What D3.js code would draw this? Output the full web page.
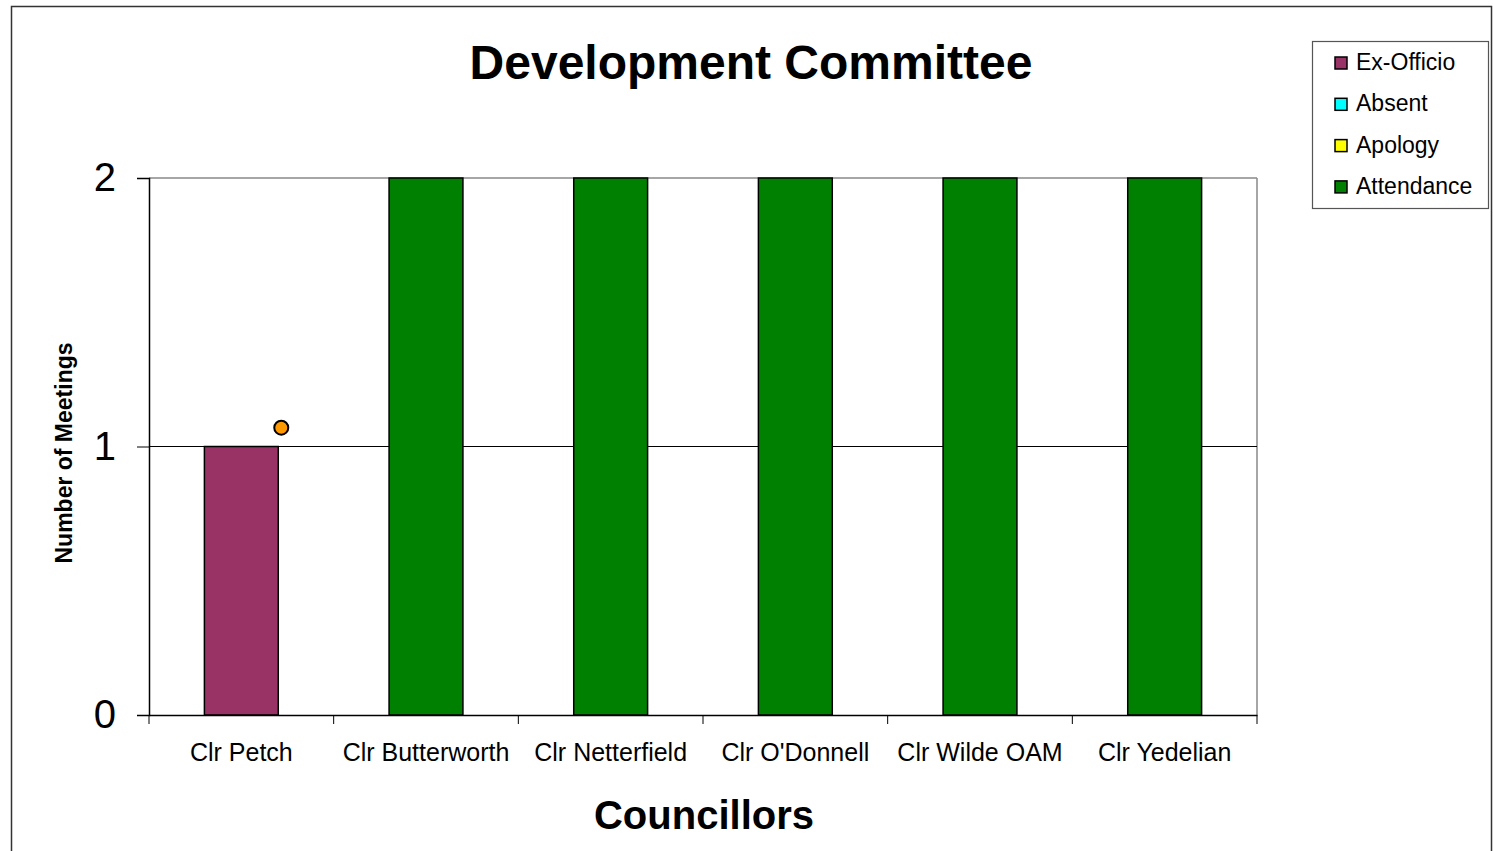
<!DOCTYPE html>
<html>
<head>
<meta charset="utf-8">
<script src="https://cdn.jsdelivr.net/npm/d3@7"></script>
<style>
  html, body { margin: 0; padding: 0; background: #fff; }
  svg { display: block; font-family: Arial, "Liberation Sans", sans-serif; }
</style>
</head>
<body>
<svg id="chart" width="1493" height="851"></svg>
<script>
// Meeting attendance per councillor
const councillors = ["Clr Petch", "Clr Butterworth", "Clr Netterfield", "Clr O'Donnell", "Clr Wilde OAM", "Clr Yedelian"];
const exOfficio  = [1, 0, 0, 0, 0, 0];
const absent     = [0, 0, 0, 0, 0, 0];
const apology    = [0, 0, 0, 0, 0, 0];
const attendance = [0, 2, 2, 2, 2, 2];
const chairMarker = [{ councillor: "Clr Petch", value: 1.07 }];
const yTicks = [0, 1, 2];

const seriesNames = ["Ex-Officio", "Absent", "Apology", "Attendance"];
const seriesColors = ["#993366", "#00FFFF", "#FFFF00", "#008000"];
const seriesValues = [exOfficio, absent, apology, attendance];

const svg = d3.select("#chart");

// outer frame
svg.append("rect").attr("x", 11.5).attr("y", 6.5).attr("width", 1480).attr("height", 860)
  .attr("fill", "#fff").attr("stroke", "#333").attr("stroke-width", 1.5);

const plot = { left: 149, right: 1257, top: 178, bottom: 715 };

const x = d3.scaleBand().domain(councillors).range([plot.left, plot.right]).paddingInner(0).paddingOuter(0);
const y = d3.scaleLinear().domain([0, 2]).range([plot.bottom, plot.top]);
const barW = x.bandwidth() * 0.4;

// plot border (top and right in grey)
svg.append("line").attr("x1", plot.left).attr("x2", plot.right).attr("y1", y(2)).attr("y2", y(2))
  .attr("stroke", "#888").attr("stroke-width", 1.5);
svg.append("line").attr("x1", plot.right).attr("x2", plot.right).attr("y1", plot.top).attr("y2", plot.bottom)
  .attr("stroke", "#888").attr("stroke-width", 1.5);

// gridline at 1
svg.append("line").attr("x1", plot.left).attr("x2", plot.right).attr("y1", y(1)).attr("y2", y(1))
  .attr("stroke", "#000").attr("stroke-width", 1);

// stacked bars
const stackData = councillors.map((c, i) => {
  const row = { councillor: c };
  seriesNames.forEach((s, k) => row[s] = seriesValues[k][i]);
  return row;
});
const stacked = d3.stack().keys(seriesNames)(stackData);
stacked.forEach((layer, k) => {
  svg.append("g").selectAll("rect").data(layer.filter(d => d[1] - d[0] > 0)).join("rect")
    .attr("x", d => x(d.data.councillor) + x.bandwidth() / 2 - barW / 2)
    .attr("width", barW)
    .attr("y", d => y(d[1]))
    .attr("height", d => y(d[0]) - y(d[1]))
    .attr("fill", seriesColors[k])
    .attr("stroke", "#000").attr("stroke-width", 1.5);
});

// marker
svg.append("g").selectAll("circle").data(chairMarker).join("circle")
  .attr("cx", d => x(d.councillor) + x.bandwidth() / 2 + barW / 2 + 3)
  .attr("cy", d => y(d.value))
  .attr("r", 7)
  .attr("fill", "#FF9900").attr("stroke", "#000").attr("stroke-width", 2);

// y axis
const yAxis = d3.axisLeft(y).tickValues(yTicks).tickSize(12).tickPadding(21).tickFormat(d3.format("d"));
const yg = svg.append("g").attr("transform", `translate(${plot.left},0)`).call(yAxis);
yg.select(".domain").attr("stroke", "#000").attr("stroke-width", 1.5);
yg.selectAll(".tick line").attr("stroke", "#000").attr("stroke-width", 1);
yg.selectAll(".tick text").attr("font-size", 40).attr("fill", "#000")
  .attr("font-family", "Arial, 'Liberation Sans', sans-serif");

// x axis
const xAxis = d3.axisBottom(x).tickSize(0).tickPadding(0);
const xg = svg.append("g").attr("transform", `translate(0,${plot.bottom})`).call(xAxis);
xg.select(".domain").attr("stroke", "#000").attr("stroke-width", 1.5);
xg.selectAll(".tick text").attr("font-size", 25).attr("fill", "#000").attr("dy", 0).attr("y", 46)
  .attr("font-family", "Arial, 'Liberation Sans', sans-serif");
// category boundary ticks
const boundaries = councillors.map(c => x(c)).concat([plot.right]);
xg.selectAll("line.bound").data(boundaries).join("line").attr("class", "bound")
  .attr("x1", d => d).attr("x2", d => d).attr("y1", 0).attr("y2", 9)
  .attr("stroke", "#000").attr("stroke-width", 1);

// titles
svg.append("text").attr("x", 751).attr("y", 79).attr("text-anchor", "middle")
  .attr("font-size", 48).attr("font-weight", "bold").text("Development Committee");
svg.append("text").attr("x", 704).attr("y", 829).attr("text-anchor", "middle")
  .attr("font-size", 40).attr("font-weight", "bold").text("Councillors");
svg.append("text").attr("transform", "translate(72,453) rotate(-90)").attr("text-anchor", "middle")
  .attr("font-size", 23).attr("font-weight", "bold").text("Number of Meetings");

// legend
const lg = svg.append("g");
lg.append("rect").attr("x", 1312.5).attr("y", 41.5).attr("width", 176).attr("height", 167)
  .attr("fill", "#fff").attr("stroke", "#555").attr("stroke-width", 1.2);
seriesNames.forEach((s, k) => {
  const cy = 62 + k * 41.3;
  lg.append("rect").attr("x", 1335).attr("y", cy - 5).attr("width", 12).attr("height", 12)
    .attr("fill", seriesColors[k]).attr("stroke", "#000").attr("stroke-width", 1.5);
  lg.append("text").attr("x", 1356).attr("y", cy + 8).attr("font-size", 23).text(s);
});
</script>
</body>
</html>
